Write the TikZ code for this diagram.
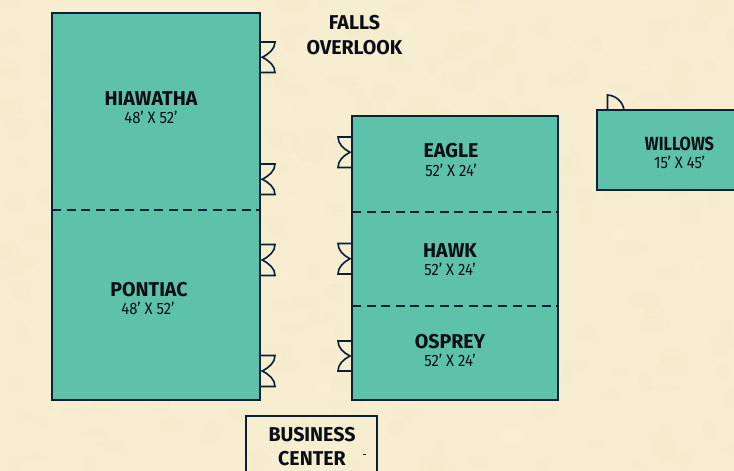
\documentclass[tikz,border=0pt]{standalone}
\usepackage{fontspec}
\setmainfont{Fira Sans}
\newfontfamily\namefont[FakeStretch=0.98]{Fira Sans}
\newfontfamily\narrowfont[FakeStretch=0.86]{Fira Sans}
\newfontfamily\sizefont[FakeStretch=0.9]{Fira Sans}
\definecolor{parch}{HTML}{F7EED1}
\definecolor{parchA}{HTML}{FBF3DC}
\definecolor{parchB}{HTML}{F0E7C6}
\definecolor{roomgreen}{HTML}{5DC2A9}
\definecolor{inkline}{HTML}{0B2035}
\definecolor{inktext}{HTML}{080E14}
\tikzset{
  room/.style={draw=inkline,line width=1.8pt,fill=roomgreen,rectangle,inner sep=0pt,outer sep=0pt,anchor=north west},
  plainbox/.style={draw=inkline,line width=1.6pt,rectangle,inner sep=0pt,outer sep=0pt,anchor=north west},
  divider/.style={draw=inkline,line width=1.5pt,dash pattern=on 9pt off 5.6pt},
  doorline/.style={draw=inkline,line width=1.6pt},
  nameText/.style={font=\namefont\fontsize{20}{22}\selectfont\bfseries,text=inktext,inner sep=0pt,align=center},
  willowText/.style={font=\narrowfont\fontsize{19}{21}\selectfont\bfseries,text=inktext,inner sep=0pt,align=center},
  sizeText/.style={font=\sizefont\fontsize{16.5}{18}\selectfont,text=inktext,inner sep=0pt,align=center}
}
\newcommand{\doubledoor}[4]{% wall x, outer x, top y, bottom y
  \pgfmathsetmacro{\mym}{(#3+#4)/2}
  \pgfmathsetmacro{\wallin}{#1+(#2-#1)*0.08}
  \pgfmathsetmacro{\ctl}{#2+(#1-#2)*0.42}
  \pgfmathsetmacro{\cya}{#3+(\mym-#3)*0.45}
  \pgfmathsetmacro{\cyb}{#4-(#4-\mym)*0.45}
  \pgfmathsetmacro{\cyc}{\mym-(\mym-#3)*0.22}
  \pgfmathsetmacro{\cyd}{\mym+(\mym-#3)*0.22}
  \draw[doorline] (#1,#3) -- (#2,#3)
    .. controls (#2,\cya) and (\ctl,\cyc) .. (\wallin,\mym)
    .. controls (\ctl,\cyd) and (#2,\cyb) .. (#2,#4) -- (#1,#4);
}
\begin{document}
\begin{tikzpicture}[x=1pt,y=-1pt]
\useasboundingbox (0,0) rectangle (734,471);
\fill[parch] (0,0) rectangle (734,471);
\pgfmathsetseed{7}
\begin{scope}
\clip (0,0) rectangle (734,471);
\foreach \i in {1,...,600}{
  \pgfmathsetmacro{\px}{rnd*734}
  \pgfmathsetmacro{\py}{rnd*471}
  \pgfmathsetmacro{\pw}{4+rnd*12}
  \pgfmathsetmacro{\ph}{3+rnd*8}
  \pgfmathsetmacro{\pick}{rnd}
  \ifdim\pick pt<0.5pt
    \fill[parchA,opacity=.14] (\px,\py) ellipse[x radius=\pw pt,y radius=\ph pt];
  \else
    \fill[parchB,opacity=.14] (\px,\py) ellipse[x radius=\pw pt,y radius=\ph pt];
  \fi
}
\end{scope}

% rooms
\node[room,minimum width=208pt,minimum height=387pt] (hp) at (52,13) {};
\node[room,minimum width=206pt,minimum height=284pt] (ehc) at (352,116) {};
\node[room,minimum width=150pt,minimum height=80pt] (wil) at (597,110) {};
\node[plainbox,minimum width=131pt,minimum height=70pt] (biz) at (246,416) {};

% dividers
\coordinate (d1a) at (hp.west |- 0,210);
\coordinate (d1b) at (hp.east |- 0,210);
\coordinate (d2a) at (ehc.west |- 0,212);
\coordinate (d2b) at (ehc.east |- 0,212);
\coordinate (d3a) at (ehc.west |- 0,306);
\coordinate (d3b) at (ehc.east |- 0,306);
\draw[divider] (d1a) -- (d1b);
\draw[divider] (d2a) -- (d2b);
\draw[divider] (d3a) -- (d3b);

% double doors
\doubledoor{261}{275}{42}{72.5}
\doubledoor{261}{275}{164}{194.5}
\doubledoor{261}{275}{244.5}{275.5}
\doubledoor{261}{275}{355.5}{386.5}
\doubledoor{351}{338}{137}{167.5}
\doubledoor{351}{338}{243.5}{274}
\doubledoor{351}{338}{341}{371}
% willows door
\draw[doorline] (607.5,110) -- (607.5,95) .. controls (616,95.5) and (623,102) .. (624,110);

% labels
\node[nameText] (nH) at (151,99) {HIAWATHA};
\node[sizeText] (sH) at (151,117) {48’ X 52’};
\node[nameText] (nP) at (149,290) {PONTIAC};
\node[sizeText] (sP) at (148,308) {48’ X 52’};
\node[nameText] (nE) at (451,151) {EAGLE};
\node[sizeText] (sE) at (451,170) {52’ X 24’};
\node[nameText] (nK) at (450,251) {HAWK};
\node[sizeText] (sK) at (450,269) {52’ X 24’};
\node[nameText] (nO) at (450,342) {OSPREY};
\node[sizeText] (sO) at (450,360) {52’ X 24’};
\node[willowText] (nW) at (679.5,144) {WILLOWS};
\node[sizeText] (sW) at (679.5,162) {15’ X 45’};
\node[nameText] (nF) at (354.5,23) {FALLS};
\node[nameText] (nV) at (354.5,48) {OVERLOOK};
\node[nameText] (nB) at (312,435) {BUSINESS};
\node[nameText] (nC) at (312,459) {CENTER};
\fill[inkline] (362.5,453.7) rectangle (365.5,454.6);
\end{tikzpicture}
\end{document}
